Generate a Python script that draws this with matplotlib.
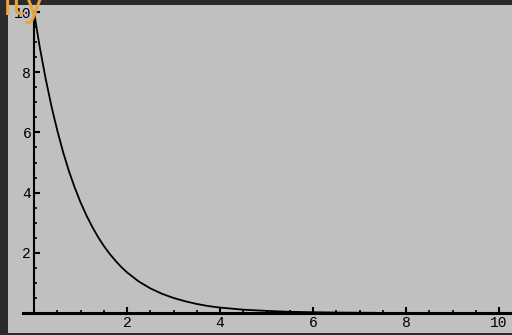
import numpy as np
import matplotlib
matplotlib.use("Agg")
import matplotlib.pyplot as plt

# values
xs = [0, 0.125, 0.25, 0.375, 0.5, 0.625, 0.75, 0.875, 1.0, 1.125, 1.25, 1.375,
      1.5, 1.625, 1.75, 1.875, 2.0, 2.25, 2.5, 2.75, 3.0, 3.25, 3.5, 3.75,
      4.0, 4.5, 5.0, 5.5, 6.0, 6.5, 7.0, 7.33]
ys = [10, 8.82, 7.79, 6.87, 6.07, 5.35, 4.72, 4.17, 3.68, 3.25, 2.87, 2.53,
      2.23, 1.97, 1.74, 1.53, 1.35, 1.05, 0.82, 0.64, 0.5, 0.39, 0.3, 0.23,
      0.18, 0.11, 0.07, 0.04, 0.025, 0.015, 0.009, 0.007]
x_major = [2, 4, 6, 8, 10]
y_major = [2, 4, 6, 8, 10]

W, H = 512, 335
fig = plt.figure(figsize=(W / 100, H / 100), dpi=100, facecolor="#2b2b2b")

# grey plot panel
bg = fig.add_axes([8 / W, 2 / H, 1 - 8 / W, (330 - 2) / H])
bg.set_facecolor("#c0c0c0")
bg.set_xticks([])
bg.set_yticks([])
for s in bg.spines.values():
    s.set_visible(False)

# main axes: x 0 at px 34, 46.5 px/unit ; y 0 at px 313, 30.1 px/unit
x0, xs_px = 34, 46.5
y0, ys_px = 313, 30.1
left_px, right_px = 23, 512
top_px = y0 - 10 * ys_px
ax = fig.add_axes([left_px / W, (H - y0) / H, (right_px - left_px) / W, (y0 - top_px) / H])
ax.patch.set_alpha(0)
ax.set_xlim((left_px - x0) / xs_px, (right_px - x0) / xs_px)
ax.set_ylim(0, 10)

ax.plot(xs, ys, color="black", lw=1.3, clip_on=False)

ax.spines["top"].set_visible(False)
ax.spines["right"].set_visible(False)
ax.spines["left"].set_position(("data", 0))
ax.spines["left"].set_linewidth(1.5)
ax.spines["bottom"].set_linewidth(2.2)

ax.set_xticks(x_major)
ax.set_yticks(y_major)
ax.set_xticks(np.arange(0.5, 10.01, 0.5), minor=True)
ax.set_yticks(np.arange(0.5, 10.01, 0.5), minor=True)
ax.tick_params(which="both", direction="in", color="black")
ax.tick_params(which="major", length=4, width=1.5, pad=2, labelsize=10.5)
ax.tick_params(which="minor", length=2.5, width=1.2)
for lab in ax.get_xticklabels() + ax.get_yticklabels():
    lab.set_family("Liberation Mono")

# title fragment, clipped at the top-left edge as in the original
fig.text(44 / W, 1 - 15 / H, "ity", color="#f0a034", fontsize=27,
         ha="right", va="baseline", family="Open Sans")

fig.savefig("out.png", dpi=100, facecolor=fig.get_facecolor())
